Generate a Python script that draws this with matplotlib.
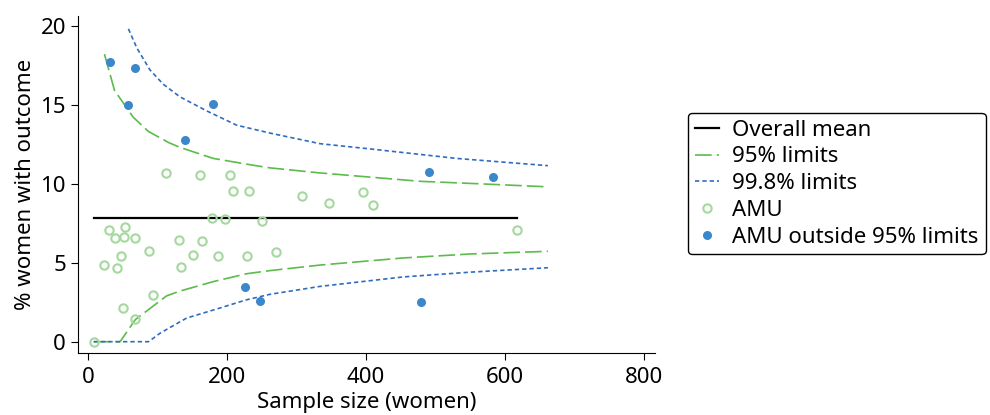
import matplotlib
matplotlib.use("Agg")
import matplotlib.pyplot as plt

plt.rcParams['font.family'] = ['Noto Sans', 'DejaVu Sans']

# AMU units inside the 95% limits
n_in = [8.6, 23.5, 30, 38, 42, 48, 53, 52, 50, 68, 68, 87, 93.5, 112, 130.5, 133,
        151.5, 161, 163.5, 179, 187.5, 196.5, 204, 209, 231, 229, 251, 270.5,
        307.5, 347, 395.7, 409.6, 616.8]
pct_in = [0.0, 4.85, 7.07, 6.56, 4.66, 5.40, 7.26, 6.65, 2.11, 6.56, 1.46, 5.72, 2.95,
          10.67, 6.41, 4.75, 5.49, 10.53, 6.37, 7.80, 5.42, 7.78, 10.55, 9.56, 9.56,
          5.42, 7.66, 5.65, 9.22, 8.80, 9.45, 8.67, 7.07]

# AMU units outside the 95% limits
n_out = [32, 67, 57, 180, 140, 226, 247, 490.6, 583, 478.6]
pct_out = [17.72, 17.32, 14.98, 15.04, 12.76, 3.46, 2.58, 10.74, 10.40, 2.53]

mean_pct = 7.8
mean_n = [8.6, 616.8]

# control limits
up95_n = [23.5, 38, 46, 65, 87, 116, 132, 180, 233, 262, 334, 478, 570, 662]
up95 = [18.2, 15.9, 15.4, 14.2, 13.3, 12.6, 12.3, 11.6, 11.2, 11.0, 10.68, 10.15, 9.98, 9.8]
lo95_n = [8, 46, 68, 89, 113, 132, 180, 228, 262, 334, 454, 550, 662]
lo95 = [0, 0, 1.4, 2.1, 2.9, 3.2, 3.8, 4.3, 4.5, 4.85, 5.3, 5.55, 5.72]
up998_n = [58, 70, 89, 108, 132, 171, 214, 262, 334, 406, 530, 662]
up998 = [19.8, 18.6, 17.2, 16.3, 15.5, 14.6, 13.7, 13.2, 12.53, 12.2, 11.6, 11.14]
lo998_n = [8, 87, 104, 142, 180, 228, 262, 334, 454, 550, 662]
lo998 = [0, 0, 0.55, 1.5, 2.0, 2.65, 3.0, 3.5, 4.1, 4.4, 4.68]

green = "#5cbb4c"
blue = "#2f6cbf"

fig = plt.figure(figsize=(9.9, 4.15), dpi=100)
ax = fig.add_axes([0.0785, 0.150, 0.583, 0.811])

ax.plot(mean_n, [mean_pct, mean_pct], color="black", lw=1.6, label="Overall mean")
ax.plot(up95_n, up95, color=green, lw=1.2, ls=(0, (10, 3)), label="95% limits")
ax.plot(lo95_n, lo95, color=green, lw=1.2, ls=(0, (10, 3)))
ax.plot(up998_n, up998, color=blue, lw=1.2, ls=(0, (2.6, 1.8)), label="99.8% limits")
ax.plot(lo998_n, lo998, color=blue, lw=1.2, ls=(0, (2.6, 1.8)))
ax.plot(n_in, pct_in, "o", ms=6, mfc="none", mec="#a5d89e", mew=1.5, label="AMU")
ax.plot(n_out, pct_out, "o", ms=6.5, color="#3b87cc", mec="none",
        label="AMU outside 95% limits")

ax.set_xlim(-15, 816)
ax.set_ylim(-0.7, 20.6)
ax.set_xticks([0, 200, 400, 600, 800])
ax.set_yticks([0, 5, 10, 15, 20])
ax.spines["top"].set_visible(False)
ax.spines["right"].set_visible(False)
ax.tick_params(labelsize=16, length=5, direction="out")
ax.tick_params(axis="x", pad=5)
ax.set_xlabel("Sample size (women)", fontsize=16, labelpad=3)
ax.set_ylabel("% women with outcome", fontsize=16, labelpad=3)

leg = ax.legend(loc="upper left", bbox_to_anchor=(0.695, 0.728),
                bbox_transform=fig.transFigure, fontsize=16, frameon=True,
                fancybox=True, edgecolor="black", framealpha=1,
                handlelength=1.1, handletextpad=0.6, labelspacing=0.26,
                borderpad=0.3, borderaxespad=0)
leg.get_frame().set_linewidth(1.0)

fig.savefig("out.png", dpi=100)
